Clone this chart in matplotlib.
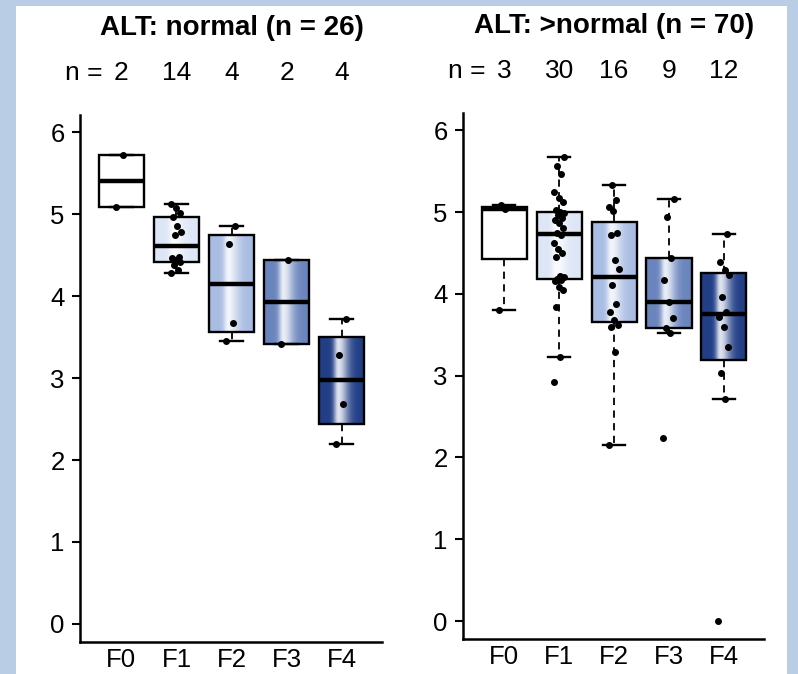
import numpy as np
import matplotlib.pyplot as plt
from matplotlib.colors import to_rgb

plt.rcParams['font.family'] = ['Liberation Sans', 'DejaVu Sans']

stages = ['F0', 'F1', 'F2', 'F3', 'F4']
box_colors = ['#ffffff', '#dde6f6', '#a9bde3', '#6a85bd', '#213e86']

# ALT normal group, values per fibrosis stage
normal_titles = 'ALT: normal (n = 26)'
normal_vals = [
    [5.09, 5.72],
    [4.28, 4.32, 4.38, 4.42, 4.44, 4.46, 4.48, 4.74, 4.78, 4.85, 4.97, 5.02, 5.07, 5.12],
    [3.45, 3.67, 4.63, 4.85],
    [3.41, 4.44],
    [2.2, 2.68, 3.28, 3.72],
]

# ALT above normal group
high_titles = 'ALT: >normal (n = 70)'
high_vals = [
    [3.8, 5.04, 5.08],
    [2.92, 3.23, 3.84, 4.05, 4.08, 4.16, 4.17, 4.18, 4.20, 4.22, 4.45, 4.50, 4.55, 4.62, 4.72,
     4.74, 4.80, 4.86, 4.90, 4.93, 4.96, 4.99, 5.00, 5.03, 5.12, 5.17, 5.24, 5.47, 5.56, 5.67],
    [2.15, 3.29, 3.59, 3.62, 3.68, 3.78, 3.87, 4.11, 4.30, 4.41, 4.72, 4.74, 5.01, 5.06, 5.15, 5.33],
    [2.24, 3.52, 3.58, 3.71, 3.90, 4.17, 4.44, 4.94, 5.16],
    [0.0, 2.71, 3.03, 3.35, 3.59, 3.72, 3.78, 3.96, 4.23, 4.29, 4.39, 4.73],
]

FS = 18.5


def fivenum(v):
    x = np.sort(np.asarray(v, float))
    n = len(x)
    n4 = np.floor((n + 3) / 2) / 2
    d = np.array([1, n4, (n + 1) / 2, n + 1 - n4, n])
    return 0.5 * (x[np.floor(d).astype(int) - 1] + x[np.ceil(d).astype(int) - 1])


def box_stats(v):
    lo, q1, med, q3, hi = fivenum(v)
    iqr = q3 - q1
    arr = np.asarray(v)
    inside = arr[(arr >= q1 - 1.5 * iqr) & (arr <= q3 + 1.5 * iqr)]
    return dict(med=med, q1=q1, q3=q3, whislo=inside.min(), whishi=inside.max(), fliers=[])


def gradient_fill(ax, patch, color):
    verts = patch.get_path().vertices
    x0, x1 = verts[:, 0].min(), verts[:, 0].max()
    y0, y1 = verts[:, 1].min(), verts[:, 1].max()
    t = np.linspace(0, 1, 200)
    w = np.where(t < 0.42, 0.10, 0.22)
    f = 0.85 * np.exp(-((t - 0.42) / w) ** 2)
    base = np.array(to_rgb(color))
    row = base[None, :] * (1 - f[:, None]) + f[:, None]
    img = np.repeat(row[None, :, :], 2, axis=0)
    im = ax.imshow(img, extent=(x0, x1, y0, y1), aspect='auto', zorder=1,
                   interpolation='bilinear')
    im.set_clip_path(patch)
    patch.set_facecolor('none')


def draw_panel(ax, vals, title):
    pos = np.arange(1, len(stages) + 1)
    stats = [box_stats(v) for v in vals]
    bp = ax.bxp(stats, positions=pos, widths=0.82, capwidths=0.41, patch_artist=True,
                showfliers=False,
                boxprops=dict(edgecolor='black', linewidth=1.7),
                medianprops=dict(color='black', linewidth=3.2),
                whiskerprops=dict(color='black', linewidth=1.3, linestyle=(0, (4, 3))),
                capprops=dict(color='black', linewidth=1.7))
    for patch, c in zip(bp['boxes'], box_colors):
        patch.set_zorder(2)
        gradient_fill(ax, patch, c)
    for k in ('medians', 'whiskers', 'caps'):
        for ln in bp[k]:
            ln.set_zorder(3)

    # jittered points
    for i, v in enumerate(vals):
        j = np.arange(len(v))
        off = 0.2 * (((j * 0.618034) % 1) - 0.5)
        ax.plot(pos[i] + off, v, 'o', color='black', ms=4.0, zorder=4, linestyle='none')

    ax.set_xlim(0.25, 5.73)
    ax.set_ylim(-0.22, 6.21)
    ax.set_yticks(range(0, 7))
    ax.set_xticks(pos)
    ax.set_xticklabels(stages)
    ax.tick_params(axis='y', length=6, width=1.5, pad=5, labelsize=FS)
    ax.tick_params(axis='x', length=0, pad=4, labelsize=FS)
    for s in ('top', 'right'):
        ax.spines[s].set_visible(False)
    for s in ('left', 'bottom'):
        ax.spines[s].set_linewidth(1.8)

    xt = ax.get_xaxis_transform()
    ax.text(3, 1.166, title, transform=xt, ha='center', va='center',
            fontsize=20, fontweight='bold')
    for i, v in enumerate(vals):
        ax.text(pos[i], 1.08, str(len(v)), transform=xt,
                ha='center', va='center', fontsize=19)
    ax.text(pos[0] - 0.2, 1.08, 'n = ', transform=xt,
            ha='right', va='center', fontsize=19)


fig = plt.figure(figsize=(7.98, 6.74), dpi=100)
fig.patch.set_facecolor('#b9cde4')
fig.patches.append(plt.Rectangle((16 / 798, 0), (787 - 16) / 798, 668 / 674,
                                 transform=fig.transFigure, facecolor='white',
                                 edgecolor='none', zorder=-10))

ax1 = fig.add_axes([0.1003, 0.0475, 0.3784, 0.7819])
ax2 = fig.add_axes([0.5802, 0.0519, 0.3772, 0.7804])
for a in (ax1, ax2):
    a.patch.set_alpha(0)

draw_panel(ax1, normal_vals, normal_titles)
draw_panel(ax2, high_vals, high_titles)

fig.savefig('out.png', dpi=100, facecolor=fig.get_facecolor())
